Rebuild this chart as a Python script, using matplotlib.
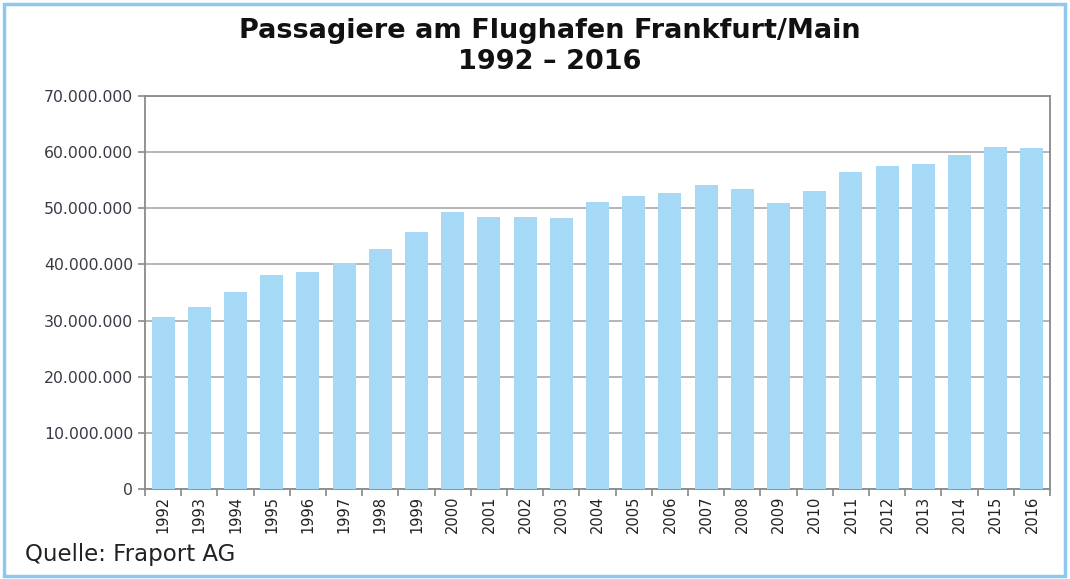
import matplotlib.pyplot as plt
from matplotlib.patches import Rectangle
from matplotlib.ticker import FuncFormatter, FixedLocator
import numpy as np

# Passagiere pro Jahr
years = [1992, 1993, 1994, 1995, 1996, 1997, 1998, 1999, 2000, 2001, 2002, 2003,
         2004, 2005, 2006, 2007, 2008, 2009, 2010, 2011, 2012, 2013, 2014, 2015, 2016]
passengers = [30.7e6, 32.5e6, 35.1e6, 38.1e6, 38.7e6, 40.2e6, 42.7e6, 45.8e6, 49.3e6,
              48.5e6, 48.45e6, 48.3e6, 51.1e6, 52.1e6, 52.8e6, 54.1e6, 53.4e6, 50.9e6,
              53.0e6, 56.4e6, 57.5e6, 57.9e6, 59.5e6, 61.0e6, 60.7e6]

fig = plt.figure(figsize=(10.7, 5.79), dpi=100)
ax = fig.add_axes([145 / 1070, 1 - 489 / 579, 905 / 1070, 393 / 579])

x = np.arange(len(years))
ax.bar(x, passengers, width=0.63, color="#a5d9f5", zorder=3)

ax.set_xlim(-0.5, len(years) - 0.5)
ax.set_ylim(0, 70e6)
ax.set_yticks(np.arange(0, 70e6 + 1, 10e6))
ax.yaxis.set_major_formatter(FuncFormatter(lambda v, p: "{:,.0f}".format(v).replace(",", ".")))
ax.grid(axis="y", color="#a8a8a8", linewidth=1.2, zorder=0)

ax.set_xticks(x)
ax.set_xticklabels([str(y) for y in years], rotation=90, fontsize=10.5, color="#222222")
ax.xaxis.set_minor_locator(FixedLocator(np.arange(-0.5, len(years), 1)))
ax.tick_params(axis="x", which="major", length=0, pad=5)
ax.tick_params(axis="x", which="minor", length=5, color="#888888", width=1.2)
ax.tick_params(axis="y", length=5, color="#888888", width=1.2, labelsize=11.3, labelcolor="#3a3a48")

for s in ax.spines.values():
    s.set_color("#8a8a8a")
    s.set_linewidth(1.3)

fig.text(0.514, 1 - 31 / 579, "Passagiere am Flughafen Frankfurt/Main", ha="center", va="center",
         fontsize=19.5, fontweight="bold", color="#111111")
fig.text(0.514, 1 - 62 / 579, "1992 – 2016", ha="center", va="center",
         fontsize=19.5, fontweight="bold", color="#111111")
fig.text(25 / 1070, 1 - 555 / 579, "Quelle: Fraport AG", ha="left", va="center",
         fontsize=16.5, color="#222222")

# hellblauer Rahmen um die Grafik
fig.patches.append(Rectangle((4 / 1070, 3 / 579), 1 - 9 / 1070, 1 - 7 / 579, transform=fig.transFigure,
                             fill=False, edgecolor="#8ec8ee", linewidth=2.5))

fig.savefig("out.png", dpi=100)
